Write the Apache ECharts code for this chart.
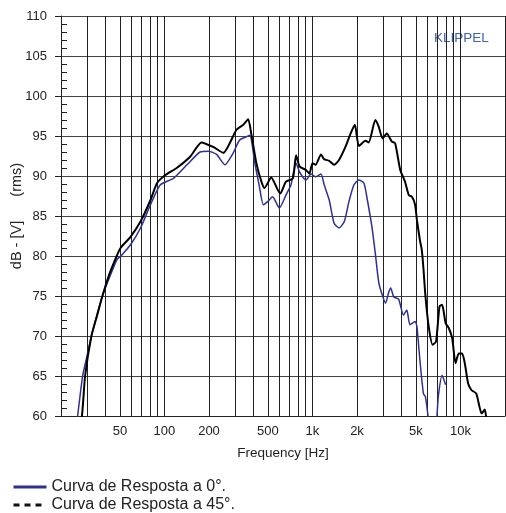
<!DOCTYPE html>
<html>
<head>
<meta charset="utf-8">
<title>Curva de Resposta</title>
<script src="https://cdn.jsdelivr.net/npm/echarts@6/dist/echarts.min.js"></script>
<style>
  html, body { margin: 0; padding: 0; background: #fff; }
  #chart { width: 506px; height: 513px; }
</style>
</head>
<body>
<div id="chart"></div>
<script>
// curva a 0 graus (azul) - Hz / dB
var freq0 = [24, 25.9, 28, 30, 32.1, 38.1, 44, 48, 51.9, 59, 68.9, 80.5, 93.8, 115, 142, 174, 198, 225, 256, 290, 322, 358, 378, 408, 438, 466, 498, 538, 598, 662, 716, 775, 818, 905, 978, 1050, 1142, 1200, 1298, 1400, 1512, 1642, 1764, 1908, 2060, 2230, 2350, 2520, 2660, 2800, 2940, 3120, 3280, 3380, 3540, 3820, 4120, 4340, 4560, 4940, 5080, 5320, 5620, 5800, 6040, 6300, 6700, 6940, 7100, 7520, 7940]
var db0 = [55, 60, 65, 67.5, 70, 75, 78, 79.6, 80.2, 81.4, 83.5, 86.4, 88.9, 89.7, 91.4, 93, 93.1, 92.7, 91.4, 92.8, 94.5, 94.9, 95.1, 91.6, 88.7, 86.4, 86.8, 87.4, 86, 87.6, 88.9, 91.6, 90.5, 89.5, 90.25, 89.9, 90.25, 88.9, 87, 84.1, 83.5, 84.3, 86.8, 88.9, 89.5, 89.1, 87, 83.7, 80.3, 76.8, 75.3, 74.1, 75.5, 76, 74.9, 74.6, 72.6, 73.25, 71.4, 71.8, 71.2, 67, 62.8, 62.4, 60, 57, 57, 60, 62.6, 65.1, 63.9]

// curva a 45 graus (preta)
var freq45 = [25, 27.7, 29.1, 32.1, 35, 38.1, 42, 47.6, 50.5, 59, 68.9, 80.5, 89, 101, 121, 149, 178, 215, 250, 306, 341, 368, 386, 418, 452, 474, 526, 606, 662, 737, 775, 818, 905, 954, 1000, 1050, 1142, 1200, 1298, 1400, 1512, 1676, 1810, 1934, 2060, 2280, 2400, 2660, 2800, 2980, 3180, 3440, 3620, 3920, 4220, 4480, 4700, 4940, 5080, 5320, 5480, 5620, 5800, 6100, 6480, 6840, 7220, 7520, 7940, 8340, 8800, 9260, 9740, 10260, 10700, 11260, 11850, 12800, 13900, 14600, 15000, 15500]
var db45 = [55, 60, 65, 70, 72.5, 75, 77.5, 80, 81, 82.4, 84.3, 87, 89.1, 90.1, 91, 92.4, 94.2, 93.6, 92.9, 95.75, 96.4, 97.1, 95.3, 91.6, 89.3, 88.5, 89.8, 87.8, 89.3, 89.7, 92.6, 91.2, 90.75, 90.3, 91.6, 91.4, 92.7, 92.1, 91.9, 91.4, 92, 93.7, 95.3, 96.4, 93.75, 94.4, 94.2, 97, 96.2, 94.7, 95.3, 94.3, 94.1, 90.75, 89.3, 87.6, 87.4, 86.4, 84.5, 82, 80.75, 78.5, 75, 71.2, 68.9, 69.3, 73.7, 73.9, 71.6, 71, 69.7, 66.6, 67.8, 67.8, 66.6, 64.1, 63.25, 62.8, 60.3, 60.8, 59.5, 57]

// linhas verticais da grade e rotulos do eixo x
var gridFreqs = [30, 40, 50, 60, 70, 80, 90, 100, 200, 300, 400, 500, 600, 700, 800, 900, 1000, 2000, 3000, 4000, 5000, 6000, 7000, 8000, 9000, 10000, 20000]
var labelFreqs = [50, 100, 200, 500, 1000, 2000, 5000, 10000]

var name0 = 'Curva de Resposta a 0°.'
var name45 = 'Curva de Resposta a 45°.'

var fontFamily = 'Liberation Sans, Arial, sans-serif'

function toPoints (freqs, dbs) {
  return freqs.map(function (f, i) {
    return [Math.log10(f), dbs[i]]
  })
}

function freqLabel (v) {
  var f = Math.round(Math.pow(10, v))
  return f >= 1000 ? (f / 1000) + 'k' : String(f)
}

var chart = echarts.init(document.getElementById('chart'))
chart.setOption({
  animation: false,
  textStyle: { fontFamily: fontFamily },
  grid: { left: 61, right: 1, top: 16, bottom: 97, containLabel: false, outerBoundsMode: 'none' },
  graphic: [
    {
      type: 'text',
      left: 434,
      top: 31,
      style: { text: 'KLIPPEL', fill: '#3f5fb0', fontSize: 13.5, fontFamily: fontFamily }
    }
  ],
  legend: {
    orient: 'vertical',
    left: 12,
    top: 479,
    padding: 0,
    itemWidth: 33,
    itemHeight: 14,
    itemGap: 2,
    textStyle: { fontSize: 16, color: '#222', fontFamily: fontFamily },
    data: [
      { name: name0, itemStyle: { opacity: 0 }, lineStyle: { width: 3, color: '#2e3192' } },
      { name: name45, itemStyle: { opacity: 0 }, lineStyle: { width: 3, color: '#111', type: [6, 5] } }
    ]
  },
  xAxis: {
    type: 'value',
    min: Math.log10(20),
    max: Math.log10(20000),
    name: 'Frequency [Hz]',
    nameLocation: 'middle',
    nameGap: 30,
    nameTextStyle: { fontSize: 13.5, color: '#222' },
    axisLine: { show: true, lineStyle: { color: '#222', width: 1 } },
    axisTick: { show: false, customValues: gridFreqs.map(Math.log10) },
    axisLabel: {
      customValues: labelFreqs.map(Math.log10),
      formatter: freqLabel,
      fontSize: 13,
      color: '#222',
      margin: 9
    },
    splitLine: { show: true, lineStyle: { color: '#222', width: 1 } }
  },
  yAxis: [
    {
      type: 'value',
      min: 60,
      max: 110,
      interval: 5,
      name: 'dB - [V]      (rms)',
      nameLocation: 'middle',
      nameGap: 37,
      nameMoveOverlap: false,
      nameTextStyle: { fontSize: 14.5, color: '#222' },
      axisLine: { show: true, lineStyle: { color: '#222', width: 1 } },
      axisTick: { show: true, inside: false, length: 6, lineStyle: { color: '#222' } },
      axisLabel: { fontSize: 13, color: '#222', margin: 14 },
      splitLine: { show: true, lineStyle: { color: '#444', width: 1 } }
    },
    {
      // so para os tracinhos de 1 dB por dentro
      type: 'value',
      position: 'left',
      min: 60,
      max: 110,
      interval: 5,
      axisLine: { show: false },
      axisTick: { show: false, inside: true },
      axisLabel: { show: false },
      splitLine: { show: false },
      minorTick: { show: true, splitNumber: 5, length: 6, lineStyle: { color: '#222' } }
    }
  ],
  series: [
    {
      name: name0,
      type: 'line',
      data: toPoints(freq0, db0),
      symbol: 'none',
      smooth: 0.2,
      clip: true,
      z: 3,
      itemStyle: { color: '#2e3192' },
      lineStyle: { color: '#2e3192', width: 1.5 }
    },
    {
      name: name45,
      type: 'line',
      data: toPoints(freq45, db45),
      symbol: 'none',
      smooth: 0.2,
      clip: true,
      z: 4,
      itemStyle: { color: '#000' },
      lineStyle: { color: '#000', width: 2 }
    }
  ]
})
</script>
</body>
</html>
